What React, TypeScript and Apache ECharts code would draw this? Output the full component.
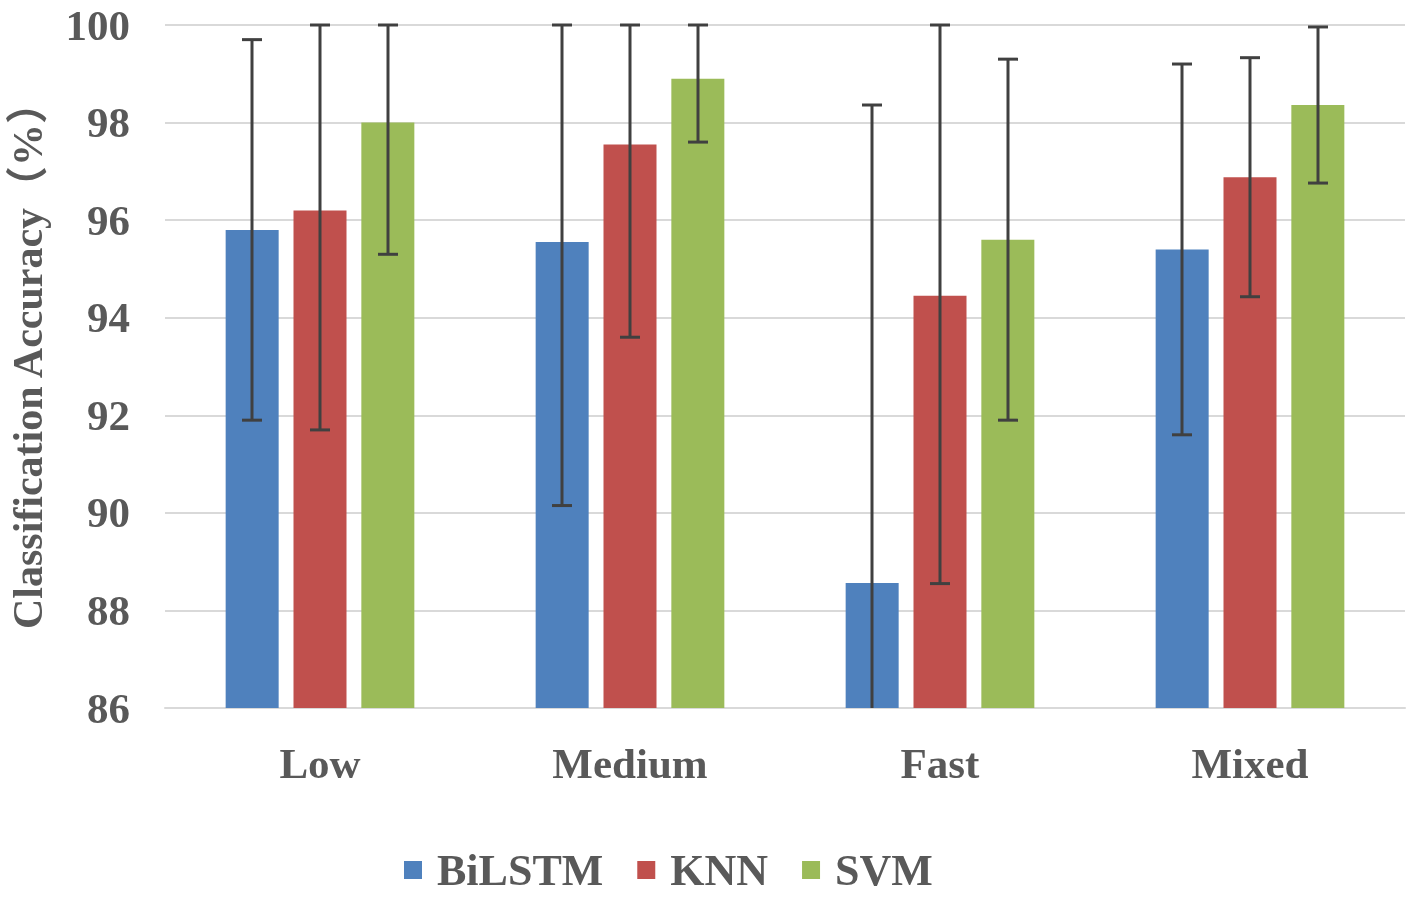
import React, { useEffect, useRef } from "react";
import * as echarts from "echarts";

const categories = ["Low", "Medium", "Fast", "Mixed"];
const seriesNames = ["BiLSTM", "KNN", "SVM"];
const bilstm = [95.8, 95.55, 88.56, 95.4];
const knn = [96.2, 97.55, 94.45, 96.88];
const svm = [98.0, 98.9, 95.6, 98.36];
const bilstmErr = [3.9, 5.4, 9.8, 3.8];
const knnErr = [4.5, 3.95, 5.9, 2.45];
const svmErr = [2.7, 1.3, 3.7, 1.6];
const yTicks = { min: 86, max: 100, interval: 2 };

const colors = ["#4f81bd", "#c0504d", "#9bbb59"];
const FONT = "'Liberation Serif', 'Noto Sans CJK SC', serif";
const TEXT = "#595959";

export default function App() {
  const ref = useRef<HTMLDivElement>(null);
  useEffect(() => {
    const chart = echarts.init(ref.current!, null, { renderer: "svg" });
    const values = [bilstm, knn, svm];
    const errs = [bilstmErr, knnErr, svmErr];
    const offsets = [-68, 0, 68];
    const barSeries = seriesNames.map((name, i) => ({
      name,
      type: "bar",
      data: values[i],
      barWidth: 53,
      barGap: "28%",
      itemStyle: { color: colors[i] },
      z: 2,
    }));
    const errSeries = seriesNames.map((name, i) => ({
      name: name + " error",
      type: "custom",
      z: 5,
      data: values[i].map((v, j) => [j, v - errs[i][j], v + errs[i][j]]),
      encode: { x: 0, y: [1, 2] },
      renderItem: (params: any, api: any) => {
        const x = api.value(0);
        const lo = api.value(1);
        const hi = api.value(2);
        const pLo = api.coord([x, Math.max(lo, yTicks.min)]);
        const pHi = api.coord([x, Math.min(hi, yTicks.max)]);
        const cx = pLo[0] + offsets[i];
        const style = { stroke: "#404040", lineWidth: 3 };
        const children: any[] = [
          { type: "line", shape: { x1: cx, y1: pHi[1], x2: cx, y2: pLo[1] }, style },
          { type: "line", shape: { x1: cx - 10, y1: pHi[1], x2: cx + 10, y2: pHi[1] }, style },
        ];
        if (lo >= yTicks.min) {
          children.push({ type: "line", shape: { x1: cx - 10, y1: pLo[1], x2: cx + 10, y2: pLo[1] }, style });
        }
        return { type: "group", children };
      },
    }));
    chart.setOption({
      animation: false,
      grid: { left: 165, right: 12, top: 25, bottom: 189, outerBoundsMode: "none", containLabel: false },
      legend: {
        data: seriesNames,
        bottom: 0,
        left: 399,
        icon: "rect",
        itemWidth: 18,
        itemHeight: 18,
        itemGap: 34,
        textStyle: { fontFamily: FONT, fontWeight: "bold", fontSize: 44, color: TEXT, padding: [0, 0, 0, 10] },
      },
      xAxis: {
        type: "category",
        data: categories,
        axisTick: { show: false },
        axisLine: { lineStyle: { color: "#d9d9d9", width: 2 } },
        axisLabel: { margin: 34, fontFamily: FONT, fontWeight: "bold", fontSize: 43, color: TEXT },
      },
      yAxis: {
        type: "value",
        min: yTicks.min,
        max: yTicks.max,
        interval: yTicks.interval,
        name: "Classification Accuracy（%）",
        nameLocation: "middle",
        nameGap: 116,
        nameTextStyle: { fontFamily: FONT, fontWeight: "bold", fontSize: 42, color: TEXT, padding: [0, 0, 0, 22] },
        axisLine: { show: false },
        axisTick: { show: false },
        splitLine: { lineStyle: { color: "#d9d9d9", width: 2 } },
        axisLabel: { margin: 35, fontFamily: FONT, fontWeight: "bold", fontSize: 43, color: TEXT },
      },
      series: [...barSeries, ...errSeries],
    });
    return () => chart.dispose();
  }, []);
  return <div ref={ref} style={{ position: "fixed", left: 0, top: 0, width: 1417, height: 897 }} />;
}
